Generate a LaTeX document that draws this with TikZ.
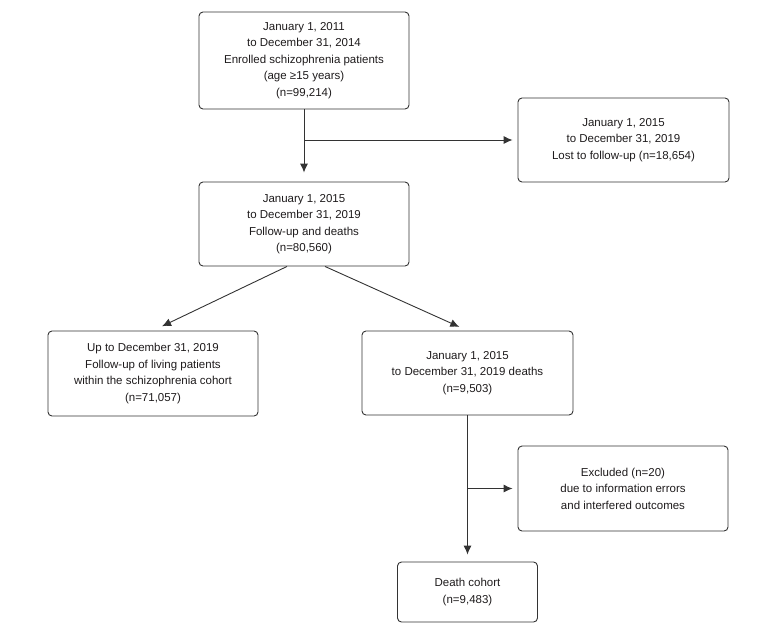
\documentclass[tikz,border=0pt]{standalone}
\usepackage{fontspec}
\setmainfont{Liberation Sans}
\usetikzlibrary{arrows.meta}
\definecolor{ln}{HTML}{333333}
\definecolor{tx}{HTML}{1E1B1C}
\begin{document}
\begin{tikzpicture}[x=1pt,y=-1pt,
  box/.style={draw=ln, line width=0.9pt, rounded corners=4pt, align=center,
    text=tx, font=\fontsize{11.5}{16.5}\selectfont, inner sep=0pt},
  conn/.style={draw=ln, line width=0.9pt},
  arr/.style={conn, -{Latex[length=9pt,width=8pt]}, shorten >=5pt}]
\useasboundingbox (0,0) rectangle (784,638);
\node[box, minimum width=210pt, minimum height=97pt] (b1) at (304,60.5)
  {January 1, 2011\\to December 31, 2014\\Enrolled schizophrenia patients\\(age ≥15 years)\\(n=99,214)};
\node[box, minimum width=211pt, minimum height=84pt] (b2) at (623.5,140)
  {January 1, 2015\\to December 31, 2019\\Lost to follow-up (n=18,654)};
\node[box, minimum width=210pt, minimum height=84pt] (b3) at (304,224)
  {January 1, 2015\\to December 31, 2019\\Follow-up and deaths\\(n=80,560)};
\node[box, minimum width=210pt, minimum height=85pt] (b4) at (153,373.5)
  {Up to December 31, 2019\\Follow-up of living patients\\within the schizophrenia cohort\\(n=71,057)};
\node[box, minimum width=211pt, minimum height=84pt] (b5) at (467.5,373)
  {January 1, 2015\\to December 31, 2019 deaths\\(n=9,503)};
\node[box, minimum width=210pt, minimum height=85pt] (b6) at (623,488.5)
  {Excluded (n=20)\\due to information errors\\and interfered outcomes};
\node[box, minimum width=140pt, minimum height=60pt] (b7) at (467.5,592)
  {Death cohort\\(n=9,483)};
\coordinate (j1) at (b1.south |- b2.west);
\coordinate (j2) at (b5.south |- b6.west);
\draw[arr, shorten >=9pt] (b1.south) -- (b3.north);
\draw[arr] (j1) -- (b2.west);
\draw[arr, shorten >=10pt] ([xshift=-17pt]b3.south) -- (b4.north);
\draw[arr, shorten >=9pt] ([xshift=21pt]b3.south) -- (b5.north);
\draw[arr, shorten >=7pt] (b5.south) -- (b7.north);
\draw[arr] (j2) -- (b6.west);
\end{tikzpicture}
\end{document}
